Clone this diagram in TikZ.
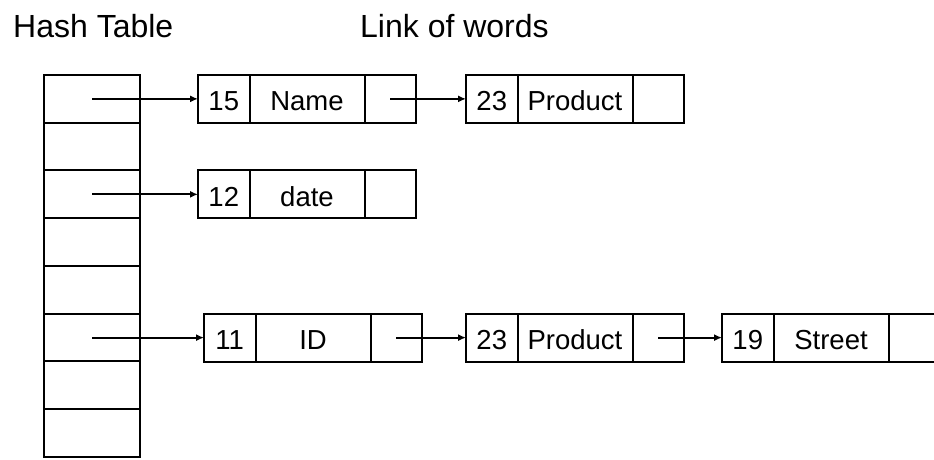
\documentclass[tikz,border=0pt]{standalone}
\usepackage{fontspec}
\setmainfont{Liberation Sans}
\usetikzlibrary{arrows.meta}
\begin{document}
\begin{tikzpicture}[x=1bp,y=-1bp,
  hrow/.style={draw, line width=2bp, minimum width=96bp, minimum height=47.75bp, inner sep=0pt, outer sep=0pt, anchor=north west},
  cellbox/.style={draw, line width=2bp, minimum height=48bp, inner sep=0pt, outer sep=0pt, anchor=west, text height=24bp, text depth=0pt, font=\fontsize{27.5bp}{33bp}\selectfont},
  narrow/.style={cellbox, minimum width=51.5bp},
  wide/.style={cellbox, minimum width=115bp},
  ptr/.style={line width=2bp, -{Latex[length=8bp,width=7bp]}},
  title/.style={anchor=base west, inner sep=0pt, font=\fontsize{32bp}{38bp}\selectfont}]
\useasboundingbox (0,0) rectangle (934,460);
\clip (0,0) rectangle (934,460);
\node[title] (t1) at (13,37.5) {Hash Table};
\node[title] (t2) at (360,37.5) {Link of words};
% hash table rows
\foreach \i in {1,...,8}{
  \node[hrow] (h\i) at (44,{75+47.75*(\i-1)}) {};
}
% row 1
\node[narrow] (a1) at ([xshift=58bp]h1.east) {15};
\node[wide] (a2) at (a1.east) {Name};
\node[narrow] (a3) at (a2.east) {};
\node[narrow] (b1) at ([xshift=50bp]a3.east) {23};
\node[wide] (b2) at (b1.east) {Product};
\node[narrow] (b3) at (b2.east) {};
% row 3
\node[narrow] (c1) at ([xshift=58bp]h3.east) {12};
\node[wide] (c2) at (c1.east) {date};
\node[narrow] (c3) at (c2.east) {};
% row 6
\node[narrow] (d1) at ([xshift=64bp]h6.east) {11};
\node[wide] (d2) at (d1.east) {ID};
\node[narrow] (d3) at (d2.east) {};
\node[narrow] (e1) at ([xshift=44bp]d3.east) {23};
\node[wide] (e2) at (e1.east) {Product};
\node[narrow] (e3) at (e2.east) {};
\node[narrow] (f1) at ([xshift=38bp]e3.east) {19};
\node[wide] (f2) at (f1.east) {Street};
\node[narrow] (f3) at (f2.east) {};
% pointers
\draw[ptr] (h1.center) -- (a1.west);
\draw[ptr] (a3.center) -- (b1.west);
\draw[ptr] (h3.center) -- (c1.west);
\draw[ptr] (h6.center) -- (d1.west);
\draw[ptr] (d3.center) -- (e1.west);
\draw[ptr] (e3.center) -- (f1.west);
\end{tikzpicture}
\end{document}
